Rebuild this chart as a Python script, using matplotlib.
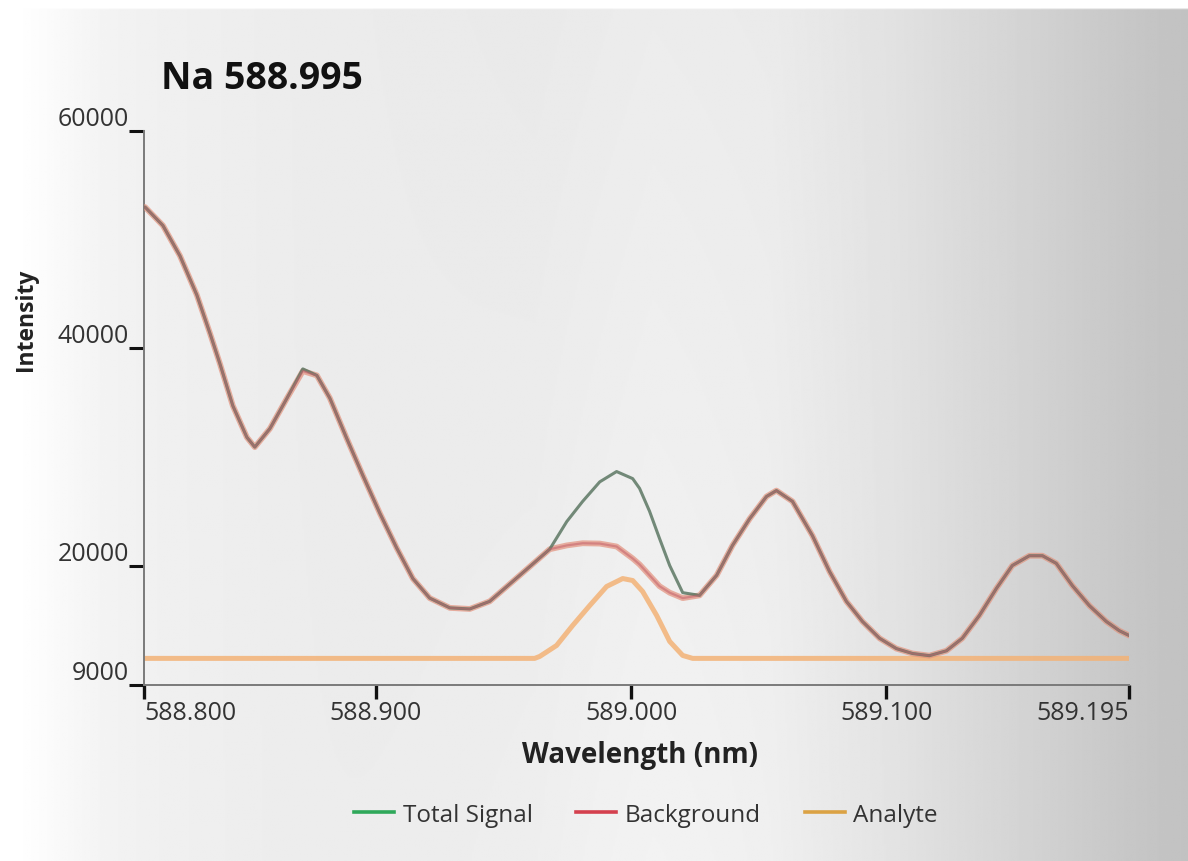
import numpy as np
import matplotlib
matplotlib.use("Agg")
import matplotlib.pyplot as plt
from matplotlib.lines import Line2D


TITLE = "Na 588.995"

# wavelength (nm) / intensity readings shared by background and total signal
wavelength = [588.8096, 588.8166, 588.8233, 588.8299, 588.8350, 588.8389,
              588.8440, 588.8495, 588.8526, 588.8585, 588.8652, 588.8714,
              588.8769, 588.8820, 588.8886, 588.8949, 588.9016, 588.9082,
              588.9145, 588.9211, 588.9290, 588.9368, 588.9446, 588.9564,
              588.9642, 588.9681, 588.9748, 588.9810, 588.9877, 588.9943,
              589.0006, 589.0033, 589.0072, 589.0111, 589.0151, 589.0202,
              589.0268, 589.0335, 589.0397, 589.0464, 589.0530, 589.0569,
              589.0632, 589.0710, 589.0777, 589.0843, 589.0906, 589.0973,
              589.1039, 589.1102, 589.1168, 589.1235, 589.1297, 589.1364,
              589.1431, 589.1493, 589.1560, 589.1611, 589.1665, 589.1728,
              589.1795, 589.1861, 589.1912, 589.1951]

background = [53000, 51300, 48500, 44900, 41400, 38600,
              34700, 31800, 30900, 32600, 35400, 37900,
              37500, 35400, 31700, 28300, 24800, 21600,
              18800, 17000, 16100, 16000, 16700, 19100,
              20700, 21500, 21850, 22050, 22020, 21750,
              20650, 20100, 19100, 18100, 17500, 17000,
              17250, 19100, 21850, 24300, 26350, 26900,
              25900, 22750, 19450, 16700, 14850, 13300,
              12350, 11900, 11700, 12150, 13300, 15400,
              17900, 20000, 20900, 20900, 20200, 18150,
              16300, 14850, 14000, 13550]

total_signal = [53000, 51300, 48500, 44900, 41400, 38600,
                34700, 31800, 30900, 32600, 35400, 38100,
                37500, 35400, 31700, 28300, 24800, 21600,
                18800, 17000, 16100, 16000, 16700, 19100,
                20700, 21500, 24050, 25900, 27700, 28650,
                28000, 27100, 25000, 22500, 20000, 17500,
                17250, 19100, 21850, 24300, 26350, 26900,
                25900, 22750, 19450, 16700, 14850, 13300,
                12350, 11900, 11700, 12150, 13300, 15400,
                17900, 20000, 20900, 20900, 20200, 18150,
                16300, 14850, 14000, 13550]

analyte_wavelength = [588.8096, 588.9622, 588.9642, 588.9708, 588.9771,
                      588.9838, 588.9904, 588.9967, 589.0006, 589.0045,
                      589.0100, 589.0151, 589.0202, 589.0241, 589.1951]
analyte = [11450, 11450, 11630, 12640, 14480,
           16320, 18070, 18800, 18620, 17610,
           15400, 13010, 11720, 11450, 11450]

y_ticks = [9000, 20000, 40000, 60000]
x_ticks = [588.8092, 588.900, 589.000, 589.100, 589.195]
x_tick_labels = ["588.800", "588.900", "589.000", "589.100", "589.195"]
series_names = ["Total Signal", "Background", "Analyte"]

TOTAL_COLOR = "#2fa85a"
BACKGROUND_COLOR = "#d4404e"
ANALYTE_COLOR = "#dba244"

plt.rcParams["font.family"] = ["Open Sans", "DejaVu Sans"]


def make_backdrop(width=600, height=440):
    # soft grey gradient that sits behind the whole figure
    xs = np.linspace(0, 1, width)
    ys = np.linspace(0, 1, height)
    base = np.interp(xs, [0.0, 0.03, 0.1, 0.25, 0.45, 0.55, 0.65, 0.75, 0.85, 0.95, 1.0],
                     [0.975, 0.965, 0.945, 0.925, 0.915, 0.925, 0.92, 0.885, 0.835, 0.78, 0.76])
    xx, yy = np.meshgrid(xs, ys)
    img = np.tile(base, (height, 1))
    # brighter towards the lower middle, haze along the left edge
    img += 0.025 * np.exp(-((xx - 0.55) / 0.18) ** 2) * yy
    img += 0.03 * np.exp(-(xx / 0.07) ** 2)
    img = np.clip(img, 0, 1)
    img[: int(height * 0.012), :] = 1.0
    return img


fig = plt.figure(figsize=(11.88, 8.62), dpi=100)

bg_ax = fig.add_axes([0, 0, 1, 1], zorder=-10)
bg_ax.imshow(make_backdrop(), cmap="gray", vmin=0, vmax=1, aspect="auto",
             extent=[0, 1, 0, 1], origin="upper", interpolation="bilinear")
bg_ax.set_axis_off()

ax = fig.add_axes([144 / 1188, 1 - 686 / 862, (1129 - 144) / 1188, (686 - 132) / 862])
ax.patch.set_alpha(0)

ax.plot(analyte_wavelength, analyte, color="#f3b276", lw=3.6, alpha=0.85,
        solid_capstyle="round", solid_joinstyle="round", zorder=2)
ax.plot(wavelength, background, color="#e3907c", lw=4.2, alpha=0.7,
        solid_capstyle="round", solid_joinstyle="round", zorder=3)
ax.plot(wavelength, total_signal, color="#5c7763", lw=2.2, alpha=0.85,
        solid_capstyle="round", solid_joinstyle="round", zorder=4)
ax.plot(wavelength, background, color="#c4606a", lw=1.6, alpha=0.55,
        solid_capstyle="round", solid_joinstyle="round", zorder=5)

ax.set_xlim(x_ticks[0], x_ticks[-1])
ax.set_ylim(y_ticks[0], y_ticks[-1])

for side in ["top", "right"]:
    ax.spines[side].set_visible(False)
for side in ["left", "bottom"]:
    ax.spines[side].set_color("#7a7a7a")
    ax.spines[side].set_linewidth(1.4)

ax.set_xticks(x_ticks)
ax.set_xticklabels(x_tick_labels)
ax.set_yticks(y_ticks)
ax.set_yticklabels([str(v) for v in y_ticks])
ax.tick_params(axis="x", direction="out", length=10, width=2.4, color="#111111",
               labelsize=18, labelcolor="#333333", pad=1)
ax.tick_params(axis="y", direction="out", length=11, width=2.2, color="#111111",
               labelsize=18, labelcolor="#333333", pad=0)

xlabels = ax.get_xticklabels()
xlabels[0].set_horizontalalignment("left")
xlabels[-1].set_horizontalalignment("right")
for lab in ax.get_yticklabels():
    lab.set_verticalalignment("bottom")

ax.set_xlabel("Wavelength (nm)", fontsize=20, fontweight="bold", color="#222222")
ax.xaxis.set_label_coords(0.5035, -0.1)
ax.set_ylabel("Intensity", fontsize=16.5, fontweight="bold", color="#222222")
ax.yaxis.set_label_coords(-0.108, 0.661)

fig.text(161 / 1188, 1 - 79 / 862, TITLE, fontsize=27, fontweight="bold",
         color="#111111", va="center", ha="left")

handles = [Line2D([0], [0], color=TOTAL_COLOR, lw=2.6),
           Line2D([0], [0], color=BACKGROUND_COLOR, lw=2.6),
           Line2D([0], [0], color=ANALYTE_COLOR, lw=2.6)]
fig.legend(handles, series_names, loc="center",
           bbox_to_anchor=(646 / 1188, 1 - 816 / 862), ncol=3, frameon=False,
           fontsize=17.5, handlelength=1.65, handletextpad=0.35, columnspacing=1.8,
           labelcolor="#333333")

fig.savefig("out.png", dpi=100)
